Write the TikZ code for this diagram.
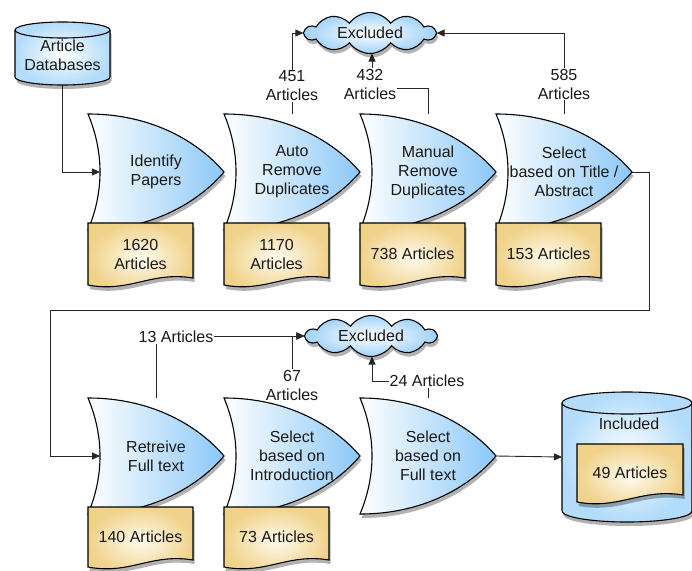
\documentclass[tikz,border=0pt]{standalone}
\usepackage{fontspec}
\setmainfont{Liberation Sans}
\usetikzlibrary{calc,arrows.meta,shapes.symbols,shadows}
\pgfdeclarelayer{conn}
\pgfdeclarelayer{fills}
\pgfsetlayers{conn,fills,main}
\definecolor{orblue}{RGB}{140,200,248}
\definecolor{docout}{RGB}{240,210,138}
\definecolor{docin}{RGB}{255,251,238}
\definecolor{cylblue}{RGB}{178,220,250}
\definecolor{cloudblue}{RGB}{160,210,250}
\tikzset{
  shadowstyle/.style={drop shadow={opacity=0.3,shadow xshift=1.5pt,shadow yshift=-4pt,fill=black}},
  orfill/.style={draw=black,line width=1.1pt,left color=white,right color=orblue,shadowstyle},
  docfill/.style={draw=black,line width=1.1pt,inner color=docin,outer color=docout,shadowstyle},
  cylfill/.style={draw=black,line width=1.1pt,inner color=white,outer color=cylblue,shadowstyle},
  shapeline/.style={draw=black,line width=1.1pt},
  orbox/.style={minimum width=136pt,minimum height=116pt,inner sep=0pt,outer sep=0pt,align=center},
  docbox/.style={minimum width=105pt,minimum height=62pt,inner sep=0pt,outer sep=0pt,align=center},
  docboxb/.style={docbox,minimum height=60pt},
  cloudbox/.style={cloud,cloud puffs=10,cloud puff arc=110,aspect=3.4,minimum width=130pt,minimum height=37pt,inner sep=0pt,outer sep=0pt,draw=black,line width=1.1pt,inner color=white,outer color=cloudblue,shadowstyle},
  lbl/.style={fill=white,inner sep=1pt,align=center},
  conn/.style={draw=black!85,line width=0.9pt},
  arr/.style={conn,-{Triangle[length=8pt,width=7pt]}}
}
\newcommand\orshape[1]{%
  \path[orfill] (#1.north west) .. controls ($(#1.north west)+(70,0)$) and ($(#1.east)+(-21,-25)$) .. (#1.east)
    .. controls ($(#1.east)+(-21,25)$) and ($(#1.south west)+(70,0)$) .. (#1.south west)
    .. controls ($(#1.south west)+(16,-38)$) and ($(#1.north west)+(16,38)$) .. cycle;}
\newcommand\docshape[1]{%
  \path[docfill] (#1.north west) -- (#1.north east) -- ($(#1.south east)+(0,-7)$)
    .. controls ($(#1.south east)+(-42,-14)$) and ($(#1.south west)+(42,8)$) .. (#1.south west) -- cycle;}
\newcommand\cylshape[3]{%
  \path[cylfill] ($(#1.north west)+(0,#3)$) -- ($(#1.south west)+(0,-#3)$)
    arc[start angle=180,end angle=0,x radius=#2,y radius=#3] -- ($(#1.north east)+(0,#3)$)
    arc[start angle=0,end angle=-180,x radius=#2,y radius=#3] -- cycle;
  \draw[shapeline] ($(#1.north west)+(0,#3)$) arc[start angle=180,end angle=0,x radius=#2,y radius=#3];}
\begin{document}
\begin{tikzpicture}[x=1pt,y=-1pt,every node/.style={font=\fontsize{16}{19}\selectfont,text=black!90}]
\useasboundingbox (0,0) rectangle (692,570);
% nodes
\node[minimum width=95pt,minimum height=63pt,inner sep=0pt,outer sep=0pt] (db) at (62.5,53.5) {\raisebox{-3.5pt}[\height][\depth]{\begin{tabular}{@{}c@{}}Article\\Databases\end{tabular}}};
\node[orbox] (s1) at (156,172) {Identify\\Papers};
\node[orbox] (s2) at (292,172) {Auto\\Remove\\Duplicates};
\node[orbox] (s3) at (428,172) {Manual\\Remove\\Duplicates};
\node[orbox] (s4) at (564,172) {Select\\based on Title /\\Abstract};
\node[orbox] (s5) at (156,456) {Retreive\\Full text};
\node[orbox] (s6) at (292,456) {Select\\based on\\Introduction};
\node[orbox] (s7) at (428,456) {Select\\based on\\Full text};
\node[docbox] (d1) at (140.5,254) {1620\\Articles};
\node[docbox] (d2) at (276.5,254) {1170\\Articles};
\node[docbox] (d3) at (412.5,254) {738 Articles};
\node[docbox] (d4) at (548.5,254) {153 Articles};
\node[docboxb] (d5) at (140.5,537) {140 Articles};
\node[docboxb] (d6) at (276.5,537) {73 Articles};
\node[minimum width=130pt,minimum height=130pt,inner sep=0pt,outer sep=0pt] (inc) at (627,457) {};
\node (inctxt) at (629,424) {Included};
\node[docbox,minimum width=106pt,minimum height=58pt] (d7) at (630,473) {49 Articles};
\node[cloudbox] (ex1) at (370,33) {Excluded};
\node[cloudbox] (ex2) at (371,336) {Excluded};
\coordinate (k432) at (372,88);
\coordinate (k24) at (372,381);
\coordinate (t1) at (649,310);
\coordinate (t2) at (50,310);
% shapes
\begin{pgfonlayer}{fills}
\cylshape{db}{47.5}{8}
\foreach \s in {s1,s2,s3,s4,s5,s6,s7} {\orshape{\s}}
\foreach \d in {d1,d2,d3,d4,d5,d6} {\docshape{\d}}
\cylshape{inc}{65}{11}
\docshape{d7}
\end{pgfonlayer}
% connectors
\begin{pgfonlayer}{conn}
\draw[arr] (db.south) |- ($(s1.west)+(12,0)$);
\draw[arr] (s2.north) |- (ex1.west);
\draw[arr] (s3.north) |- (k432) -- (k432 |- ex1.south);
\draw[arr] (s4.north) |- (ex1.east);
\draw[arr] (s4.east) -| (t1) -- (t2) |- ($(s5.west)+(12,0)$);
\draw[arr] (s5.north) |- (ex2.west);
\draw[arr] (s6.north) |- (ex2.west);
\draw[arr] (s7.north) |- (k24) -- (k24 |- ex2.south);
\draw[arr] (s7.east) -- (inc.west);
\end{pgfonlayer}
% labels
\node[lbl] (l451) at (292,86) {451\\Articles};
\node[lbl] (l432) at (370,84) {432\\Articles};
\node[lbl] (l585) at (564,84) {585\\Articles};
\node[lbl] (l13) at (176,337) {13 Articles};
\node[lbl] (l67) at (292,385) {67\\Articles};
\node[lbl] (l24) at (427,381) {24 Articles};
\end{tikzpicture}
\end{document}
